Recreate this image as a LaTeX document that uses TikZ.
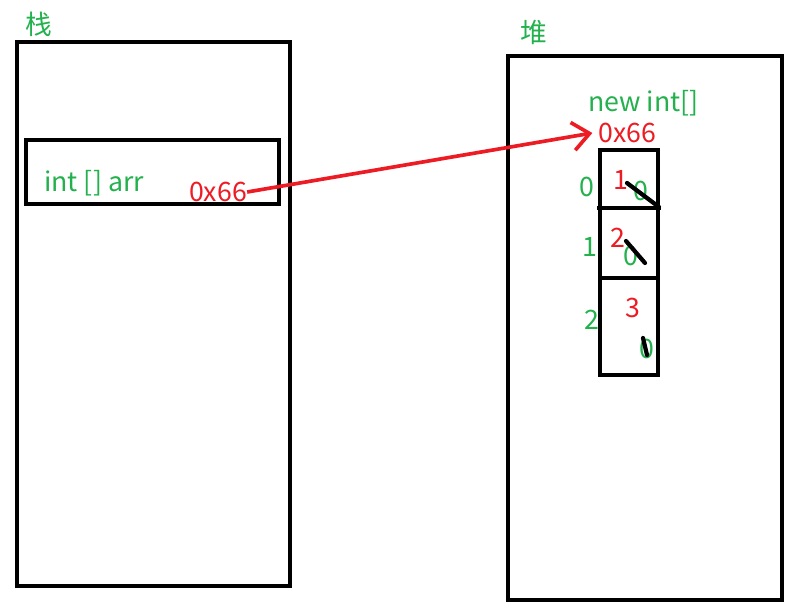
\documentclass[tikz,border=0pt]{standalone}
\usepackage{fontspec}
\setmainfont{Noto Sans CJK SC}
\usepackage{xcolor}
\usetikzlibrary{arrows.meta}

\definecolor{pgreen}{RGB}{34,177,76}
\definecolor{pred}{RGB}{237,28,36}

\begin{document}
\begin{tikzpicture}[x=0.025cm,y=-0.025cm,
    box/.style={draw=black, line width=2.8pt},
    gtxt/.style={text=pgreen, font=\fontsize{19}{22}\selectfont, inner sep=0pt},
    rtxt/.style={text=pred, font=\fontsize{19}{22}\selectfont, inner sep=0pt},
    strike/.style={draw=black, line width=3pt, line cap=round}]
      % \draw[help lines, gray!50, very thin] (0,0) grid (796,612);
      \useasboundingbox (0,0) rectangle (796,612);

      % stack
      \draw[box] (17,42) rectangle (290,586);
      \node[gtxt] (stacklbl) at (39,24) {栈};
      \draw[box] (26,140) rectangle (279,204);
      \node[gtxt, anchor=west] (decl) at (44,183) {int [] arr};
      \node[rtxt] (ptr) at (218,192) {0x66};

      % heap
      \draw[box] (508,56) rectangle (782,600);
      \node[gtxt] (heaplbl) at (534,32) {堆};
      \node[gtxt, anchor=west] (newarr) at (588,103) {new int[]};
      \node[rtxt, anchor=west] (addr) at (598,133) {0x66};

      % array cells
      \draw[box] (600,150) rectangle (658,375);
      \draw[box] (597,208) -- (661,208);
      \draw[box] (600,278) -- (658,278);

      \node[gtxt] (i0) at (587,187) {0};
      \node[gtxt] (i1) at (590,247) {1};
      \node[gtxt] (i2) at (592,320) {2};

      \node[gtxt] (z0) at (641,191) {0};
      \node[gtxt] (z1) at (631,256) {0};
      \node[gtxt] (z2) at (647,349) {0};

      \node[rtxt] (v0) at (621,180) {1};
      \node[rtxt] (v1) at (618,238) {2};
      \node[rtxt] (v2) at (633,308) {3};

      \draw[strike] (627,183) -- (659,207);
      \draw[strike] (626,241) -- (645,263);
      \draw[strike] (643,338) -- (647,355);

      \draw[-{Straight Barb[length=12pt,width=20pt]}, pred, line width=2.6pt]
        (ptr.east) -- ([xshift=-4pt]addr.west);
    \end{tikzpicture}
\end{document}
